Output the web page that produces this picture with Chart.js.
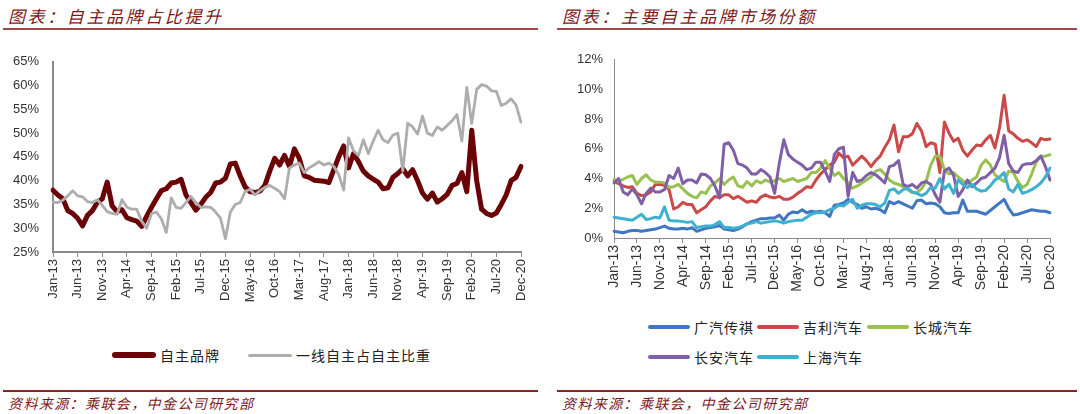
<!DOCTYPE html>
<html>
<head>
<meta charset="utf-8">
<script src="https://cdn.jsdelivr.net/npm/chart.js@4.4.1/dist/chart.umd.min.js"></script>
<style>
    body { margin: 0; width: 1080px; height: 414px; background: #fff; position: relative; overflow: hidden;
           font-family: "Noto Sans CJK SC", sans-serif; }
    .title { position: absolute; top: 3px; font-size: 17px; color: #7d1719; font-style: italic; letter-spacing: 2.6px; white-space: nowrap; }
    .rule { position: absolute; background: #a04848; }
    .source { position: absolute; top: 393px; font-size: 14px; color: #7d1719; font-style: italic; letter-spacing: 1.4px; white-space: nowrap; }
    canvas { position: absolute; }
    .legend-item { position: absolute; height: 20px; display: flex; align-items: center; font-size: 14px; color: #222; white-space: nowrap; letter-spacing: 1px; }
    .swatch { display: inline-block; border-radius: 3px; margin-right: 4px; }
</style>
</head>
<body>
<div class="title" style="left:8px">图表：自主品牌占比提升</div>
<div class="title" style="left:562px">图表：主要自主品牌市场份额</div>
<div class="rule" style="left:3px;width:535px;top:28px;height:2px"></div>
<div class="rule" style="left:557px;width:520px;top:28px;height:2px"></div>

<canvas id="leftChart" width="540" height="272" style="left:0;top:40px;width:540px;height:272px"></canvas>
<canvas id="rightChart" width="525" height="272" style="left:555px;top:40px;width:525px;height:272px"></canvas>

<div id="legends"></div>

<div class="rule" style="left:3px;width:535px;top:390px;height:1.5px;background:#8b2020"></div>
<div class="rule" style="left:557px;width:520px;top:390px;height:1.5px;background:#8b2020"></div>
<div class="source" style="left:8px">资料来源：乘联会，中金公司研究部</div>
<div class="source" style="left:562px">资料来源：乘联会，中金公司研究部</div>

<script>
// 月份类别 Jan-13 ... Dec-20
const monthNames = ['Jan', 'Feb', 'Mar', 'Apr', 'May', 'Jun', 'Jul', 'Aug', 'Sep', 'Oct', 'Nov', 'Dec'];
const years = ['13', '14', '15', '16', '17', '18', '19', '20'];
const months = [];
years.forEach(y => monthNames.forEach(m => months.push(m + '-' + y)));

// 左图：自主品牌占比 (%)
const ownBrandShare = [
    38.0, 37.0, 36.2, 33.7, 33.1, 32.1, 30.5, 32.7, 33.7, 35.4, 36.2, 39.7,
    34.7, 33.5, 33.9, 32.2, 31.8, 31.5, 30.4, 32.5, 34.4, 36.2, 37.9, 38.3,
    39.5, 39.7, 40.3, 37.0, 35.4, 33.8, 35.0, 36.5, 37.5, 39.5, 39.7, 40.5,
    43.5, 43.7, 41.0, 38.7, 37.7, 37.5, 37.8, 39.0, 42.0, 44.7, 43.3, 45.3,
    43.0, 46.7, 44.7, 41.0, 40.7, 40.1, 40.0, 39.9, 39.6, 42.3, 45.0, 47.3,
    42.7, 45.7, 44.0, 42.0, 41.0, 40.3, 39.7, 38.3, 38.5, 40.7, 41.5, 42.5,
    41.0, 42.3, 40.0, 37.4, 36.1, 37.4, 35.5, 36.2, 37.1, 39.0, 39.4, 41.7,
    37.7, 50.6, 40.0, 34.0, 33.1, 32.7, 33.2, 35.0, 37.0, 40.0, 40.7, 43.0
];
// 左图：一线自主占自主比重 (%)
const topTierShare = [
    35.5, 35.4, 35.9, 36.8, 37.9, 36.8, 36.6, 35.6, 35.4, 36.0, 34.8, 33.5,
    33.1, 32.9, 36.0, 34.4, 34.0, 34.0, 31.5, 30.0, 33.1, 33.4, 32.0, 29.1,
    36.4, 34.4, 34.2, 35.4, 36.7, 35.4, 34.4, 34.5, 34.4, 33.4, 32.1, 27.8,
    33.4, 35.0, 35.4, 37.7, 38.2, 37.0, 37.9, 38.6, 39.0, 38.4, 37.7, 36.2,
    42.7, 43.3, 43.7, 41.7, 42.7, 43.3, 44.0, 43.3, 43.7, 43.0, 41.3, 38.0,
    49.0, 46.3, 45.3, 48.6, 45.7, 48.3, 50.6, 48.6, 48.0, 49.6, 50.0, 42.0,
    52.1, 51.3, 49.8, 53.6, 50.0, 49.5, 51.3, 50.6, 51.6, 52.6, 53.9, 48.3,
    59.6, 52.0, 59.2, 60.2, 59.9, 58.9, 58.8, 55.8, 56.3, 57.2, 55.9, 52.3
];

// 右图：各品牌市场份额 (%)
const gacShare = [
    0.45, 0.40, 0.35, 0.45, 0.50, 0.50, 0.45, 0.50, 0.55, 0.60, 0.70, 0.80,
    0.65, 0.60, 0.60, 0.65, 0.60, 0.70, 0.45, 0.55, 0.65, 0.70, 0.75, 0.85,
    0.60, 0.55, 0.50, 0.60, 0.75, 0.95, 1.10, 1.20, 1.30, 1.30, 1.35, 1.35,
    1.55, 1.20, 1.60, 1.75, 1.70, 1.90, 1.70, 1.80, 1.75, 1.80, 1.70, 1.45,
    2.20, 2.25, 2.35, 2.60, 2.40, 2.25, 2.00, 2.10, 1.95, 2.00, 1.90, 1.70,
    2.45, 2.30, 2.45, 2.30, 2.15, 2.00, 2.50, 2.55, 2.30, 2.35, 2.30, 2.10,
    1.70, 1.65, 1.70, 1.70, 2.55, 1.80, 1.80, 1.80, 1.70, 1.60, 1.85, 2.10,
    2.35, 2.60, 2.00, 1.55, 1.60, 1.70, 1.80, 1.90, 1.85, 1.80, 1.80, 1.70
];
const geelyShare = [
    3.80, 3.65, 3.50, 3.40, 3.45, 3.00, 2.85, 2.90, 3.10, 3.60, 3.60, 3.55,
    3.25, 1.95, 2.10, 2.40, 2.25, 2.25, 1.70, 1.90, 2.10, 2.50, 2.80, 2.70,
    2.90, 2.90, 2.65, 2.80, 2.60, 2.40, 2.50, 2.40, 2.75, 2.90, 2.75, 2.70,
    2.80, 2.60, 2.60, 2.75, 3.00, 3.20, 3.45, 3.40, 3.90, 4.30, 4.60, 4.90,
    5.10, 5.70, 5.40, 5.50, 4.90, 5.20, 5.50, 5.20, 4.80, 5.20, 5.50, 6.10,
    6.60, 7.60, 5.80, 6.80, 6.80, 7.00, 7.70, 7.20, 6.15, 6.40, 6.30, 4.40,
    7.80, 7.05, 6.50, 6.70, 5.90, 5.50, 5.90, 6.25, 6.20, 6.60, 6.90, 6.05,
    7.40, 9.60, 7.20, 7.00, 6.70, 6.50, 6.60, 6.40, 6.15, 6.70, 6.60, 6.65
];
const greatWallShare = [
    3.95, 3.80, 3.95, 4.10, 4.20, 3.60, 4.00, 4.25, 3.90, 3.75, 3.75, 3.70,
    3.40, 3.45, 3.60, 3.30, 3.00, 2.80, 2.70, 3.10, 3.00, 3.50, 3.70, 4.00,
    3.60, 3.90, 4.10, 3.50, 3.40, 3.80, 3.50, 3.85, 3.70, 3.90, 3.75, 3.85,
    4.00, 3.80, 3.90, 4.00, 3.80, 3.90, 4.00, 4.40, 4.40, 4.70, 5.20, 4.70,
    4.20, 4.40, 4.00, 3.70, 3.35, 3.50, 3.70, 3.90, 4.10, 4.50, 4.60, 4.30,
    3.90, 3.70, 3.60, 3.45, 3.25, 3.05, 3.05, 3.30, 3.80, 4.90, 5.50, 5.50,
    4.60, 4.30, 4.40, 4.10, 3.85, 3.65, 3.90, 4.10, 4.90, 5.25, 4.90, 4.25,
    4.00, 3.80, 4.50, 4.40, 3.80, 3.40, 3.60, 4.30, 5.10, 5.50, 5.50, 5.60
];
const changanShare = [
    3.70, 4.00, 3.10, 2.90, 3.30, 2.90, 2.30, 3.00, 3.35, 3.10, 3.10, 3.25,
    4.20, 4.00, 4.70, 3.65, 3.90, 3.90, 3.70, 4.30, 4.25, 4.00, 3.50, 2.70,
    6.30, 6.40, 5.90, 5.00, 4.90, 4.70, 4.30, 4.30, 4.60, 4.40, 4.10, 3.00,
    5.00, 6.60, 5.60, 5.30, 5.10, 4.90, 4.60, 4.70, 5.10, 5.10, 4.50, 3.80,
    5.60, 6.00, 6.10, 2.80, 4.40, 3.80, 3.90, 4.20, 4.40, 4.25, 4.00, 3.70,
    4.80, 4.90, 5.20, 3.60, 3.45, 3.60, 3.35, 3.70, 3.80, 3.60, 2.90, 2.40,
    4.50, 4.70, 4.20, 2.80, 3.25, 3.90, 3.45, 3.70, 4.00, 4.10, 4.40, 4.70,
    5.40, 6.90, 5.00, 4.50, 4.40, 4.90, 5.00, 5.00, 5.20, 5.50, 4.80, 3.90
];
const saicShare = [
    1.40, 1.35, 1.30, 1.25, 1.20, 1.40, 1.60, 1.25, 1.30, 1.40, 1.35, 2.10,
    1.20, 1.15, 1.15, 1.10, 1.05, 1.10, 0.70, 0.75, 0.80, 0.80, 0.90, 1.10,
    0.70, 0.70, 0.65, 0.70, 0.80, 0.95, 1.00, 1.10, 1.00, 1.05, 1.10, 1.15,
    1.10, 1.00, 1.10, 1.15, 1.20, 1.20, 1.40, 1.60, 1.70, 1.70, 1.75, 1.90,
    2.00, 2.20, 2.15, 2.40, 2.60, 2.00, 2.20, 2.30, 2.30, 2.25, 2.10, 2.35,
    3.20, 3.30, 3.00, 3.25, 3.35, 3.10, 3.00, 2.85, 3.00, 3.40, 3.35, 4.00,
    3.30, 3.60, 3.00, 3.90, 3.60, 3.40, 3.60, 3.30, 3.15, 3.20, 3.50, 3.90,
    4.10, 4.40, 3.30, 3.10, 3.60, 3.00, 3.10, 3.25, 3.45, 3.70, 4.10, 4.70
];

const leftNames = ['自主品牌', '一线自主占自主比重'];
const leftColors = ['#6b0205', '#adadad'];
const rightNames = ['广汽传祺', '吉利汽车', '长城汽车', '长安汽车', '上海汽车'];
const rightColors = ['#3f77c3', '#c94a48', '#98c152', '#7f5fa8', '#3fb0cf'];

const leftTicks = [25, 30, 35, 40, 45, 50, 55, 60, 65];
const rightTicks = [0, 2, 4, 6, 8, 10, 12];

const tickFont = { family: '"Liberation Sans", Arial, sans-serif', size: 13 };
const axisColor = '#8a8a8a';

function fixWidth(w) {
    return scale => { scale.width = w; };
}
function fixHeight(h) {
    return scale => { scale.height = h; };
}

function xAxis(height, border, fontSize) {
    return {
        type: 'category',
        offset: false,
        afterFit: fixHeight(height),
        border: { display: true, color: axisColor, width: border },
        grid: { display: true, drawOnChartArea: false, drawTicks: true, tickLength: 5, color: axisColor, lineWidth: 1 },
        ticks: {
            autoSkip: false,
            minRotation: 90,
            maxRotation: 90,
            padding: 2,
            color: '#333',
            font: { family: tickFont.family, size: fontSize },
            callback: function(value, index) {
                return index % 5 === 0 ? months[index] : null;
            }
        }
    };
}

function yAxis(list, width, pad, border) {
    return {
        min: list[0],
        max: list[list.length - 1],
        afterFit: fixWidth(width),
        afterBuildTicks: scale => {
            scale.ticks = list.map(v => ({ value: v }));
        },
        border: { display: true, color: axisColor, width: border },
        grid: { display: false, drawTicks: false },
        ticks: {
            padding: pad,
            color: '#333',
            font: tickFont,
            callback: v => v + '%'
        }
    };
}

const baseOptions = {
    responsive: false,
    animation: false,
    events: [],
    plugins: { legend: { display: false }, tooltip: { enabled: false } },
    elements: { point: { radius: 0 }, line: { tension: 0, borderJoinStyle: 'round', borderCapStyle: 'round' } }
};

// 左图
new Chart(document.getElementById('leftChart').getContext('2d'), {
    type: 'line',
    data: {
        labels: months,
        datasets: [
            { label: leftNames[0], data: ownBrandShare, borderColor: leftColors[0], borderWidth: 5, order: 1 },
            { label: leftNames[1], data: topTierShare, borderColor: leftColors[1], borderWidth: 2.8, order: 0 }
        ]
    },
    options: Object.assign({}, baseOptions, {
        layout: { padding: { top: 11, right: 19, left: 0, bottom: 0 } },
        scales: {
            x: xAxis(60, 2, 13),
            y: yAxis(leftTicks, 53, 14, 2)
        }
    })
});

// 右图 (后面的系列画在上层)
new Chart(document.getElementById('rightChart').getContext('2d'), {
    type: 'line',
    data: {
        labels: months,
        datasets: [gacShare, geelyShare, greatWallShare, changanShare, saicShare].map((d, i) => ({
            label: rightNames[i],
            data: d,
            borderColor: rightColors[i],
            borderWidth: 3,
            order: 4 - i
        }))
    },
    options: Object.assign({}, baseOptions, {
        layout: { padding: { top: 19.5, right: 30, left: 0, bottom: 0 } },
        scales: {
            x: xAxis(74, 1, 14),
            y: yAxis(rightTicks, 59, 11, 1)
        }
    })
});

// 图例
const legendSpecs = [
    { name: leftNames[0], color: leftColors[0], x: 112, y: 355, w: 44, h: 6 },
    { name: leftNames[1], color: leftColors[1], x: 248, y: 355, w: 44, h: 3 },
    { name: rightNames[0], color: rightColors[0], x: 648, y: 327, w: 42, h: 4 },
    { name: rightNames[1], color: rightColors[1], x: 757, y: 327, w: 42, h: 4 },
    { name: rightNames[2], color: rightColors[2], x: 867, y: 327, w: 42, h: 4 },
    { name: rightNames[3], color: rightColors[3], x: 648, y: 357, w: 42, h: 4 },
    { name: rightNames[4], color: rightColors[4], x: 757, y: 357, w: 42, h: 4 }
];
const legendBox = document.getElementById('legends');
legendSpecs.forEach(s => {
    const item = document.createElement('div');
    item.className = 'legend-item';
    item.style.left = s.x + 'px';
    item.style.top = (s.y - 10) + 'px';
    item.innerHTML = '<span class="swatch" style="width:' + s.w + 'px;height:' + s.h + 'px;background:' + s.color + '"></span>' + s.name;
    legendBox.appendChild(item);
});
</script>
</body>
</html>
